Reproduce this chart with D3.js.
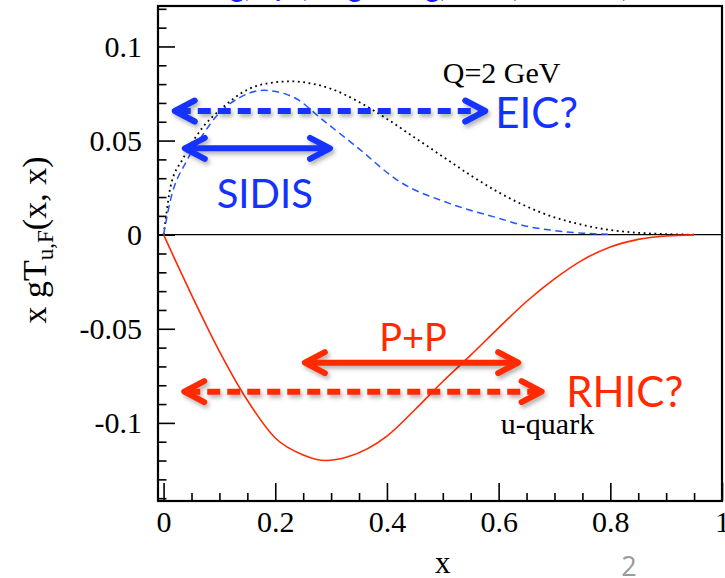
<!DOCTYPE html>
<html>
<head>
<meta charset="utf-8">
<script src="https://cdn.jsdelivr.net/npm/d3@7"></script>
<style>
  body { margin: 0; background: #fff; }
  svg { display: block; }
</style>
</head>
<body>
<script>
// x gT_{u,F}(x, x) at Q = 2 GeV, with kinematic reach overlays

// black dotted curve
const dotX = [0, 0.005, 0.012, 0.036, 0.07, 0.1, 0.15, 0.2, 0.23, 0.25, 0.3, 0.35, 0.4, 0.45, 0.5, 0.55, 0.6, 0.65, 0.7, 0.75, 0.8, 0.85, 0.9, 0.95]
const dotY = [0, 0.011, 0.025, 0.041, 0.057, 0.066, 0.077, 0.081, 0.0815, 0.081, 0.0775, 0.0705, 0.0615, 0.0515, 0.0415, 0.0315, 0.0225, 0.015, 0.0092, 0.0052, 0.0025, 0.001, 0.0003, 0]

// blue dashed curve
const dashX = [0, 0.012, 0.042, 0.07, 0.096, 0.137, 0.179, 0.233, 0.286, 0.346, 0.421, 0.513, 0.603, 0.65, 0.7, 0.75, 0.8]
const dashY = [0, 0.018, 0.0395, 0.053, 0.0634, 0.073, 0.0767, 0.073, 0.0607, 0.0466, 0.0285, 0.0165, 0.0085, 0.0045, 0.0022, 0.0008, 0.0002]

// red u-quark curve
const redX = [0, 0.02, 0.05, 0.1, 0.15, 0.2, 0.25, 0.29, 0.33, 0.4, 0.45, 0.5, 0.55, 0.6, 0.65, 0.7, 0.75, 0.8, 0.85, 0.9, 0.95]
const redY = [0, -0.013, -0.032, -0.062, -0.088, -0.108, -0.117, -0.120, -0.118, -0.107, -0.093, -0.078, -0.064, -0.0495, -0.0355, -0.0235, -0.0135, -0.0065, -0.0025, -0.0007, -0.0001]

// axis ticks
const xTicks = [0, 0.2, 0.4, 0.6, 0.8, 1]
const xTickLabels = ["0", "0.2", "0.4", "0.6", "0.8", "1"]
const yTicks = [-0.1, -0.05, 0, 0.05, 0.1]
const yTickLabels = ["-0.1", "-0.05", "0", "0.05", "0.1"]

// range arrows (data units)
const arrowNames = ["EIC?", "SIDIS", "P+P", "RHIC?"]
const arrowFrom = [0.02, 0.038, 0.253, 0.037]
const arrowTo = [0.576, 0.298, 0.635, 0.677]
const arrowAt = [0.0657, 0.0459, -0.068, -0.0834]

const MARGIN = { LEFT: 158, RIGHT: 3, TOP: 6, BOTTOM: 77 }
const WIDTH = 725 - MARGIN.LEFT - MARGIN.RIGHT
const HEIGHT = 578 - MARGIN.TOP - MARGIN.BOTTOM

const BLUE = "#1432ff"
const RED = "#ff2a00"
const SERIF = "'Liberation Serif', 'Times New Roman', serif"
const SANS = "Lato, 'Open Sans', sans-serif"

const svg = d3.select("body").append("svg")
  .attr("width", 725)
  .attr("height", 578)

const defs = svg.append("defs")
defs.append("filter")
  .attr("id", "shadow")
  .attr("x", "-10%").attr("y", "-60%")
  .attr("width", "120%").attr("height", "220%")
  .append("feDropShadow")
  .attr("dx", 2).attr("dy", 3)
  .attr("stdDeviation", 2)
  .attr("flood-color", "#000")
  .attr("flood-opacity", 0.3)

// clipped reference line at the very top of the slide
svg.append("text")
  .attr("x", 182)
  .attr("y", -3)
  .attr("font-family", SANS)
  .attr("font-size", "28px")
  .attr("fill", "#1a1aff")
  .text("Kang, Qiu, Vogelsang, Yuan, PRD 83, 094001 (2011)")

const g = svg.append("g")
  .attr("transform", `translate(${MARGIN.LEFT}, ${MARGIN.TOP})`)

// Scales
const x = d3.scaleLinear()
  .domain([-0.01, 1])
  .range([0, WIDTH])
const y = d3.scaleLinear()
  .domain([-0.1415, 0.1215])
  .range([HEIGHT, 0])

// minor ticks
const xMinor = d3.range(0, 1.0001, 0.05).filter(v => Math.abs(v * 5 - Math.round(v * 5)) > 1e-6)
const yMinor = d3.range(-0.14, 0.12001, 0.01).filter(v => Math.abs(v * 20 - Math.round(v * 20)) > 1e-6)

g.append("g")
  .attr("class", "x minor")
  .attr("transform", `translate(0, ${HEIGHT})`)
  .call(d3.axisBottom(x).tickValues(xMinor).tickFormat("").tickSizeInner(-8).tickSizeOuter(0))

g.append("g")
  .attr("class", "y minor")
  .call(d3.axisLeft(y).tickValues(yMinor).tickFormat("").tickSizeInner(-8.5).tickSizeOuter(0))

// X Axis
const xAxisCall = d3.axisBottom(x)
  .tickValues(xTicks)
  .tickFormat((d, i) => xTickLabels[i])
  .tickSizeInner(-18)
  .tickSizeOuter(0)
  .tickPadding(10)
g.append("g")
  .attr("class", "x axis")
  .attr("transform", `translate(0, ${HEIGHT})`)
  .call(xAxisCall)

// Y Axis
const yAxisCall = d3.axisLeft(y)
  .tickValues(yTicks)
  .tickFormat((d, i) => yTickLabels[i])
  .tickSizeInner(-17)
  .tickSizeOuter(0)
  .tickPadding(16)
g.append("g")
  .attr("class", "y axis")
  .call(yAxisCall)

g.selectAll(".domain").remove()
g.selectAll(".tick line").attr("stroke", "#000").attr("stroke-width", 1.6)
g.selectAll(".axis text")
  .attr("font-family", SERIF)
  .attr("font-size", "30px")
  .attr("fill", "#000")

// frame
g.append("rect")
  .attr("x", 0).attr("y", 0)
  .attr("width", WIDTH).attr("height", HEIGHT)
  .attr("fill", "none")
  .attr("stroke", "#000")
  .attr("stroke-width", 2.2)

// zero line
g.append("line")
  .attr("x1", 0).attr("x2", WIDTH)
  .attr("y1", y(0)).attr("y2", y(0))
  .attr("stroke", "#000")
  .attr("stroke-width", 1.2)

// curves
const line = d3.line()
  .x(d => x(d[0]))
  .y(d => y(d[1]))
  .curve(d3.curveMonotoneX)

g.append("path")
  .datum(dotX.map((v, i) => [v, dotY[i]]))
  .attr("d", line)
  .attr("fill", "none")
  .attr("stroke", "#000")
  .attr("stroke-width", 1.8)
  .attr("stroke-dasharray", "1.8 3.6")

g.append("path")
  .datum(dashX.map((v, i) => [v, dashY[i]]))
  .attr("d", line)
  .attr("fill", "none")
  .attr("stroke", "#2255ff")
  .attr("stroke-width", 1.5)
  .attr("stroke-dasharray", "7 4.5")

g.append("path")
  .datum(redX.map((v, i) => [v, redY[i]]))
  .attr("d", line)
  .attr("fill", "none")
  .attr("stroke", RED)
  .attr("stroke-width", 1.6)

// curve labels
g.append("text")
  .attr("x", x(0.5))
  .attr("y", y(0.0804))
  .attr("font-family", SERIF)
  .attr("font-size", "30px")
  .text("Q=2 GeV")

g.append("text")
  .attr("x", x(0.604))
  .attr("y", y(-0.1058))
  .attr("font-family", SERIF)
  .attr("font-size", "30px")
  .text("u-quark")

// range arrows
const arrows = arrowNames.map((name, i) => ({
  name: name,
  x1: x(arrowFrom[i]),
  x2: x(arrowTo[i]),
  yy: y(arrowAt[i]),
  color: i < 2 ? BLUE : RED,
  dashed: name.endsWith("?")
}))

const arrowG = g.selectAll(".arrow")
  .data(arrows)
  .enter().append("g")
  .attr("class", "arrow")
  .attr("filter", "url(#shadow)")

arrowG.append("line")
  .attr("x1", d => d.x1 + 3)
  .attr("x2", d => d.x2 - 3)
  .attr("y1", d => d.yy)
  .attr("y2", d => d.yy)
  .attr("stroke", d => d.color)
  .attr("stroke-width", 6)
  .attr("stroke-dasharray", d => d.dashed ? "13 7" : null)

arrowG.append("path")
  .attr("d", d => `M${d.x1 + 20},${d.yy - 10.5}L${d.x1},${d.yy}L${d.x1 + 20},${d.yy + 10.5}` +
    `M${d.x2 - 20},${d.yy - 10.5}L${d.x2},${d.yy}L${d.x2 - 20},${d.yy + 10.5}`)
  .attr("fill", "none")
  .attr("stroke", d => d.color)
  .attr("stroke-width", 6)
  .attr("stroke-linecap", "round")
  .attr("stroke-linejoin", "round")

// arrow labels
const labelX = [0.594, 0.095, 0.386, 0.721]
const labelY = [0.0567, 0.014, -0.0616, -0.0918]
const labelSize = [42, 40, 38, 42]

g.selectAll(".note")
  .data(arrows)
  .enter().append("text")
  .attr("class", "note")
  .attr("x", (d, i) => x(labelX[i]))
  .attr("y", (d, i) => y(labelY[i]))
  .attr("font-family", SANS)
  .attr("font-size", (d, i) => labelSize[i] + "px")
  .attr("fill", d => d.color)
  .text(d => d.name)

// axis titles
svg.append("text")
  .attr("x", MARGIN.LEFT + x(0.5))
  .attr("y", 573)
  .attr("text-anchor", "middle")
  .attr("font-family", SERIF)
  .attr("font-size", "31px")
  .text("x")

const yLabel = svg.append("text")
  .attr("transform", "translate(46, 240) rotate(-90)")
  .attr("text-anchor", "middle")
  .attr("font-family", SERIF)
  .attr("font-size", "34px")
yLabel.append("tspan").text("x gT")
yLabel.append("tspan")
  .attr("font-size", "23px")
  .attr("dy", 7)
  .text("u,F")
yLabel.append("tspan")
  .attr("dy", -7)
  .text("(x, x)")

// slide number
svg.append("text")
  .attr("x", 629)
  .attr("y", 576)
  .attr("text-anchor", "middle")
  .attr("font-family", "'Open Sans', sans-serif")
  .attr("font-size", "27px")
  .attr("fill", "#9a9a9a")
  .text("2")
</script>
</body>
</html>
